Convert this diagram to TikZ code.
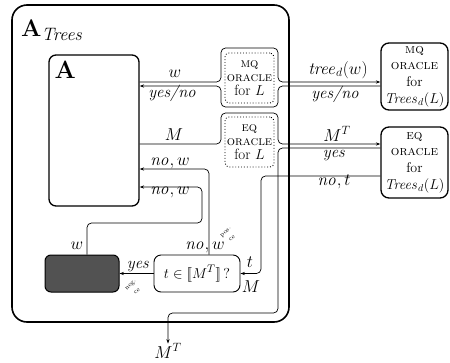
\documentclass[tikz,border=0pt]{standalone}
\usetikzlibrary{arrows.meta,calc}
\begin{document}
\begin{tikzpicture}[x=1pt,y=-1pt,
  conn/.style={line width=0.7pt, rounded corners=4.5pt},
  arr/.style={-{Stealth[length=4.5pt,width=3.2pt]}},
  lbl/.style={font=\fontsize{16.5}{19}\selectfont, inner sep=0pt},
  tiny/.style={font=\fontsize{6.5}{6.5}\selectfont, inner sep=0pt, rotate=45},
  bigbox/.style={draw, line width=1.3pt, rounded corners=7pt, inner sep=0pt},
  rbox/.style={draw, line width=1.3pt, rounded corners=8pt, inner sep=0pt, align=center,
     minimum width=67pt, font=\fontsize{14}{16.7}\selectfont},
  dotbox/.style={draw, dotted, line width=0.9pt, rounded corners=4pt, inner sep=0pt,
     minimum width=49pt, minimum height=50pt, align=center, font=\fontsize{15}{14}\selectfont}
]
\useasboundingbox (0,0) rectangle (450,362);
% outer box
\node[draw, line width=1.6pt, rounded corners=15pt, minimum width=277pt, minimum height=317pt, inner sep=0pt] (outer) at (150.5,163.5) {};
\node[anchor=base west, inner sep=0pt] (otitle) at (21,36) {\fontsize{24}{24}\selectfont\bfseries A\fontsize{18}{18}\selectfont\mdseries\itshape\raisebox{-4pt}{Trees}};
% inner A box
\node[bigbox, minimum width=90pt, minimum height=151pt] (A) at (94,130.5) {};
\node[anchor=base west, inner sep=0pt] (Alab) at (54.5,78) {\fontsize{25}{25}\selectfont\bfseries A};
% dark box
\node[draw, line width=1pt, fill=black!68, rounded corners=6pt, minimum width=74pt, minimum height=37pt] (dark) at (82,273.5) {};
% test box
\node[draw, line width=0.9pt, rounded corners=7pt, minimum width=86pt, minimum height=37pt, font=\fontsize{15.5}{18}\selectfont] (test) at (197,273.5) {$t\in[\![M^T]\!]\,?$};
% oracle for L boxes
\node[dotbox] (mqL) at (249.5,78) {{\fontsize{13}{14}\selectfont\textsc{mq}}\\{\fontsize{13}{14}\selectfont\textsc{oracle}}\\for $L$};
\node[dotbox] (eqL) at (249.5,142) {{\fontsize{13}{14}\selectfont\textsc{eq}}\\{\fontsize{13}{14}\selectfont\textsc{oracle}}\\for $L$};
% right oracle boxes
\node[rbox, minimum height=67pt] (mqT) at (414.5,76.5) {{\fontsize{13.5}{16.7}\selectfont\textsc{mq}}\\{\fontsize{13.5}{16.7}\selectfont\textsc{oracle}}\\for\\$\mathit{Trees}_d(L)$};
\node[rbox, minimum height=71pt] (eqT) at (414.5,162.5) {{\fontsize{13.5}{16.7}\selectfont\textsc{eq}}\\{\fontsize{13.5}{16.7}\selectfont\textsc{oracle}}\\for\\$\mathit{Trees}_d(L)$};
% M^T output label
\node[lbl] (MT) at (168,351) {$M^T$};
% connectors
\draw[conn,arr] (A.east |- {(0,82)}) -- (221,82) -- (221,48) -- (278,48) -- (278,82) -- (mqT.west |- {(0,82)});
\draw[conn,arr] (mqT.west |- {(0,86)}) -- (278,86) -- (278,107) -- (221,107) -- (221,86) -- (A.east |- {(0,86)});
\draw[conn,arr] (A.east |- {(0,144)}) -- (221,144) -- (221,113) -- (278,113) -- (278,144) -- (eqT.west |- {(0,144)});
\draw[conn,arr] (eqT.west |- {(0,148)}) -- (278,148) -- (278,313) -- (168,313) -- (MT.north);
\draw[conn,arr] (eqT.west |- {(0,176)}) -- (261,176) -- (261,273.5) -- (test.east);
\draw[conn,arr] (test.north -| {(209,0)}) -- (209,169) -- (A.east |- {(0,169)});
\draw[conn,arr] (dark.north -| {(87,0)}) -- (87,223) -- (202,223) -- (202,187) -- (A.east |- {(0,187)});
\draw[conn,arr] (test.west) -- (dark.east);
% labels
\node[lbl] (l1) at (175,74) {$w$};
\node[lbl] (l2) at (172,93) {\textit{yes/no}};
\node[lbl] (l3) at (174,135) {$M$};
\node[lbl] (l4) at (170,163) {$\mathit{no}, w$};
\node[lbl] (l5) at (170,192) {$\mathit{no}, w$};
\node[lbl] (l6) at (338,70) {$\mathit{tree}_d(w)$};
\node[lbl] (l7) at (335,94) {\textit{yes/no}};
\node[lbl] (l8) at (337,134) {$M^T$};
\node[lbl] (l9) at (334,156) {\textit{yes}};
\node[lbl] (l10) at (334,182) {$\mathit{no}, t$};
\node[lbl] (l11) at (250,262) {$t$};
\node[lbl] (l12) at (251,287) {$M$};
\node[lbl] (l13) at (77,246) {$w$};
\node[lbl] (l14) at (205,247) {$\mathit{no}, w$};
\node[lbl] (l15) at (138,267) {\textit{yes}};
\node[tiny] (l16a) at (226,232.5) {pos.};
\node[tiny] (l16b) at (232,238.5) {ce};
\node[tiny] (l17a) at (131,285.5) {neg.};
\node[tiny] (l17b) at (137,291.5) {ce};
\end{tikzpicture}
\end{document}
